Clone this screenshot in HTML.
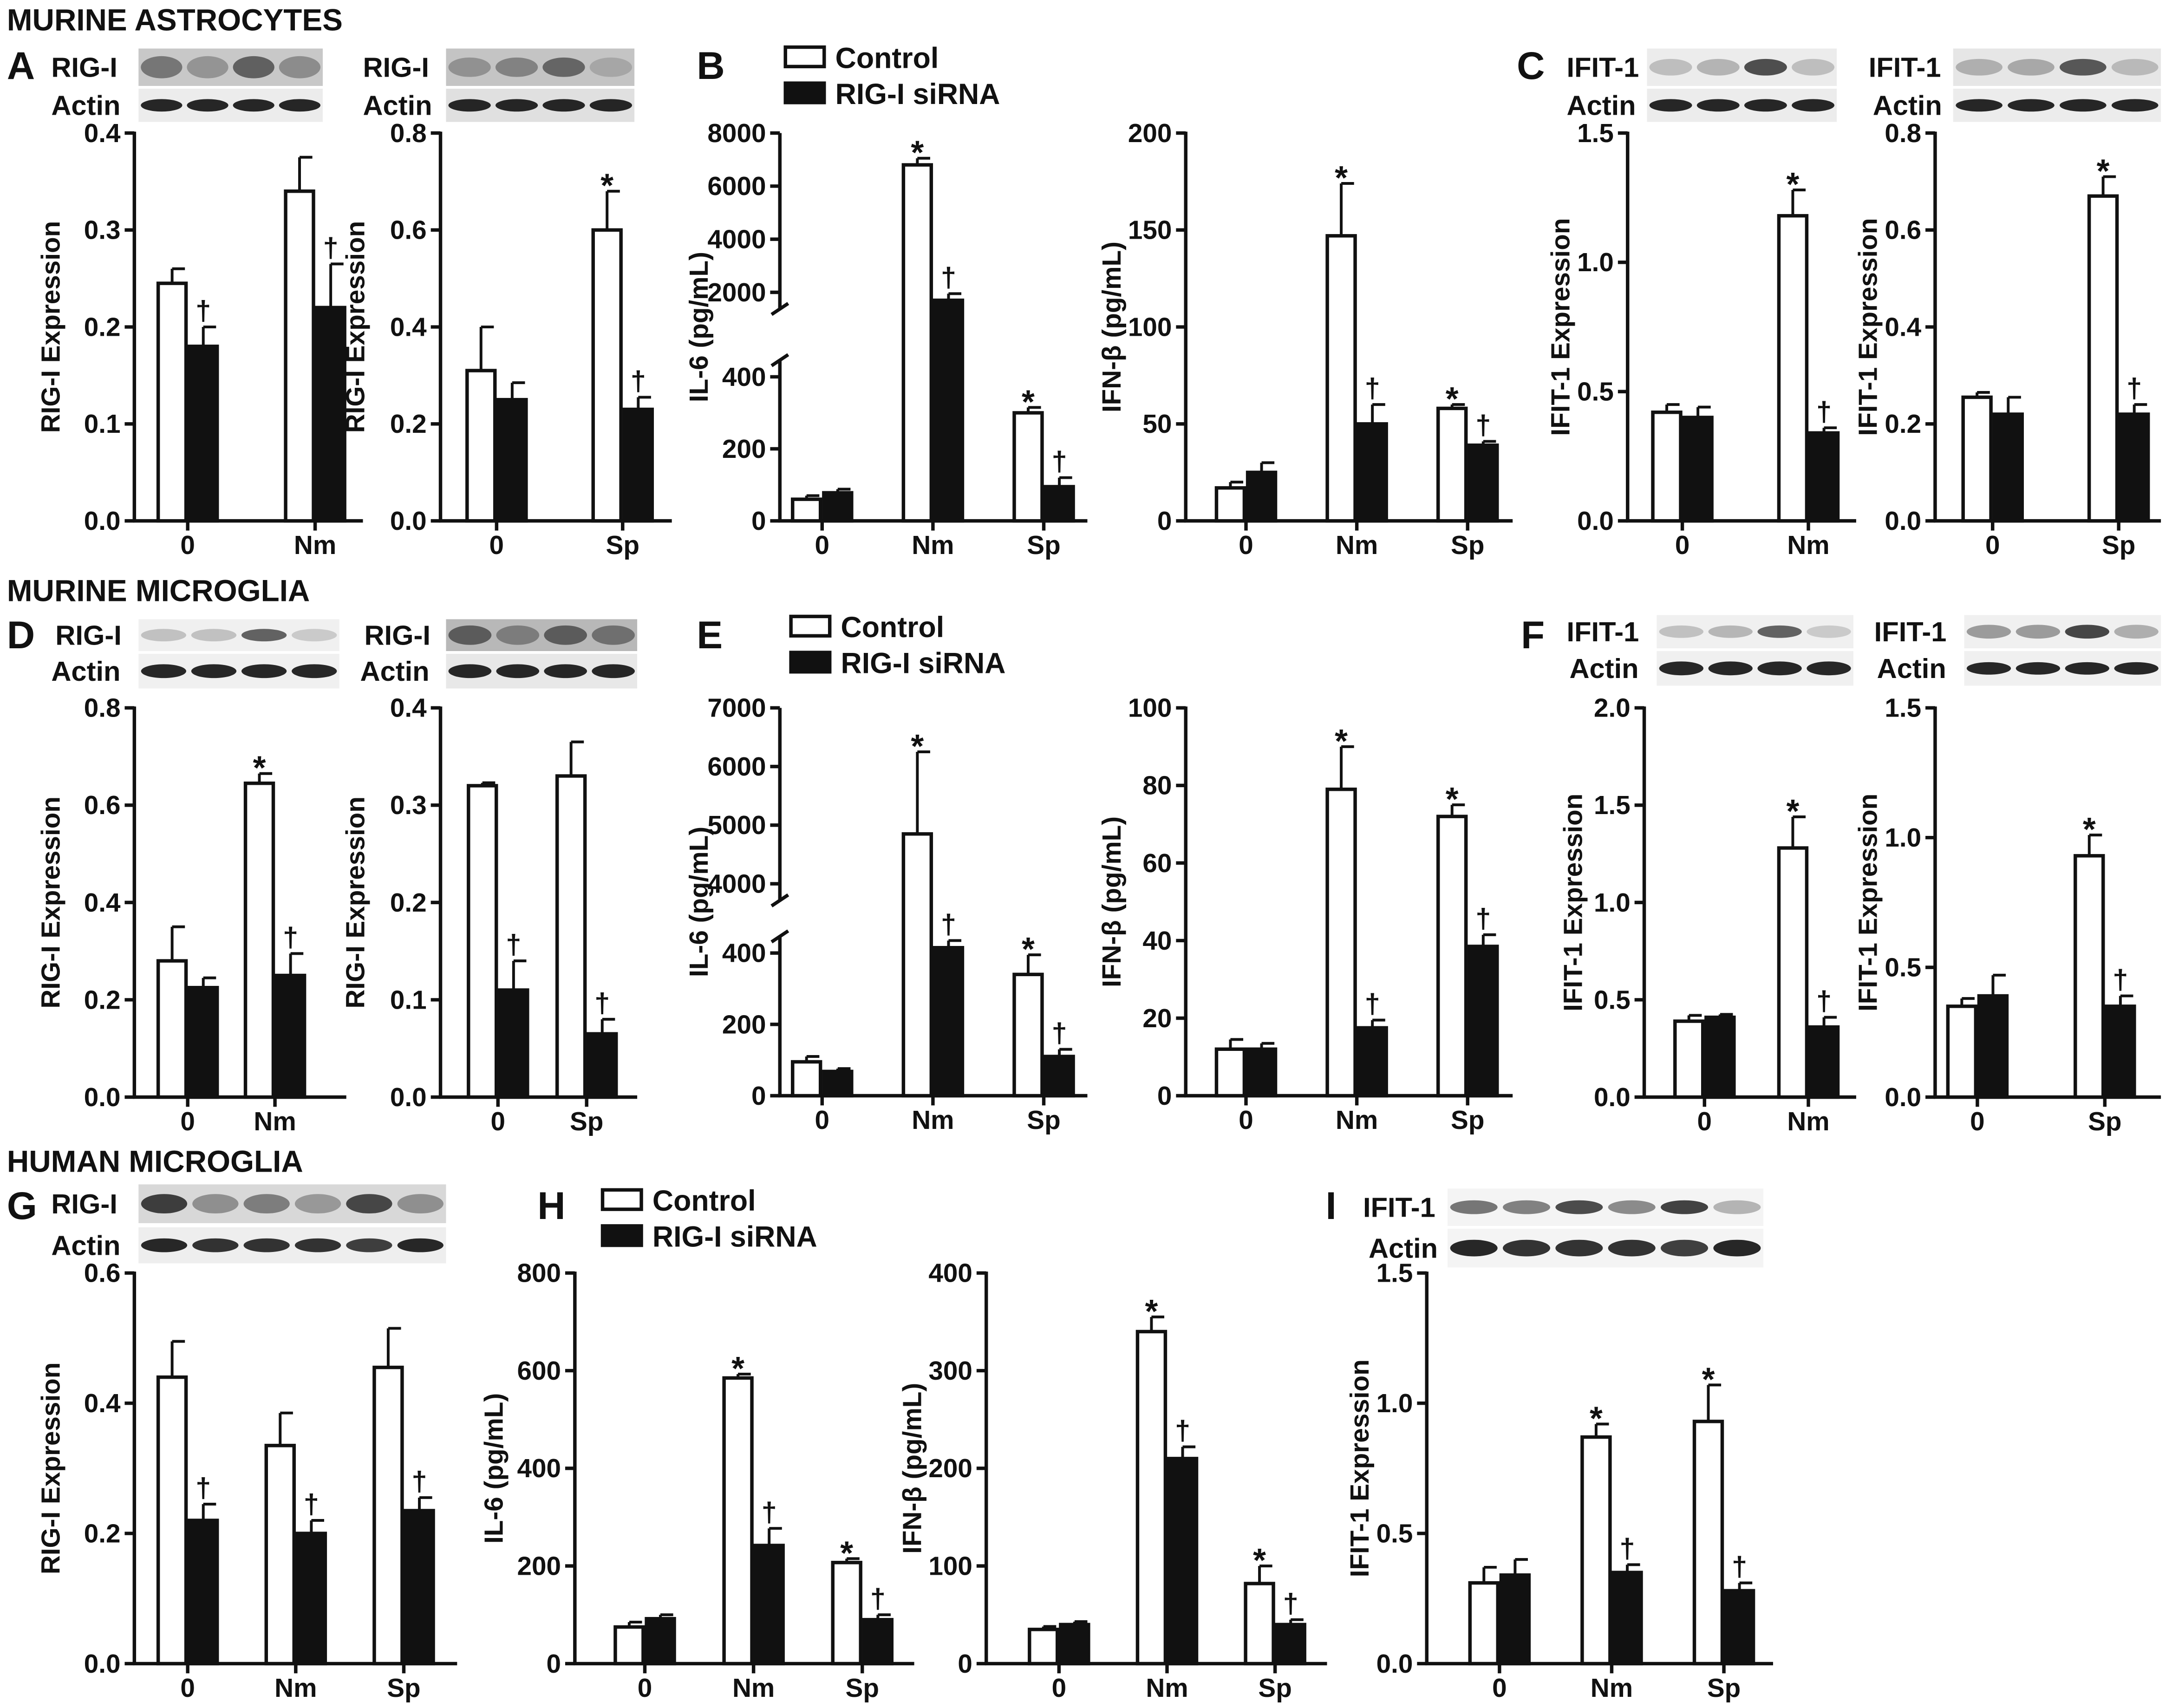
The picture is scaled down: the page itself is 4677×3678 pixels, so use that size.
<!DOCTYPE html>
<html><head><meta charset="utf-8"><style>
html,body{margin:0;padding:0;background:#fff}
svg{display:block}
text{font-family:"Liberation Sans",Arial,sans-serif;font-weight:bold;fill:#111}
</style></head><body>
<svg id="fig" width="4677" height="3678" viewBox="0 0 1568 1233" xmlns="http://www.w3.org/2000/svg"></svg>
<script>
// ---- data ----
const catsA1=['0','Nm'];const ctrlA1=[0.245,0.34];const ctrlErrA1=[0.015,0.035];const sirA1=[0.18,0.22];const sirErrA1=[0.02,0.045];const starA1=[0,0];const dagA1=[1,1];
const catsA2=['0','Sp'];const ctrlA2=[0.31,0.6];const ctrlErrA2=[0.09,0.08];const sirA2=[0.25,0.23];const sirErrA2=[0.035,0.025];const starA2=[0,1];const dagA2=[0,1];
const catsB1=['0','Nm','Sp'];const ctrlB1=[60,6800,300];const ctrlErrB1=[10,250,15];const sirB1=[78,1700,95];const sirErrB1=[10,250,25];const starB1=[0,1,1];const dagB1=[0,1,1];
const catsB2=['0','Nm','Sp'];const ctrlB2=[17,147,58];const ctrlErrB2=[3,27,2];const sirB2=[25,50,39];const sirErrB2=[5,10,2];const starB2=[0,1,1];const dagB2=[0,1,1];
const catsC1=['0','Nm'];const ctrlC1=[0.42,1.18];const ctrlErrC1=[0.03,0.1];const sirC1=[0.40,0.34];const sirErrC1=[0.04,0.02];const starC1=[0,1];const dagC1=[0,1];
const catsC2=['0','Sp'];const ctrlC2=[0.255,0.67];const ctrlErrC2=[0.01,0.04];const sirC2=[0.22,0.22];const sirErrC2=[0.035,0.02];const starC2=[0,1];const dagC2=[0,1];
const catsD1=['0','Nm'];const ctrlD1=[0.28,0.645];const ctrlErrD1=[0.07,0.02];const sirD1=[0.225,0.25];const sirErrD1=[0.02,0.045];const starD1=[0,1];const dagD1=[0,1];
const catsD2=['0','Sp'];const ctrlD2=[0.32,0.33];const ctrlErrD2=[0.003,0.035];const sirD2=[0.11,0.065];const sirErrD2=[0.03,0.015];const starD2=[0,0];const dagD2=[1,1];
const catsE1=['0','Nm','Sp'];const ctrlE1=[95,4850,340];const ctrlErrE1=[15,1400,55];const sirE1=[68,415,110];const sirErrE1=[8,20,20];const starE1=[0,1,1];const dagE1=[0,1,1];
const catsE2=['0','Nm','Sp'];const ctrlE2=[12,79,72];const ctrlErrE2=[2.5,11,3];const sirE2=[12,17.5,38.5];const sirErrE2=[1.5,2,3];const starE2=[0,1,1];const dagE2=[0,1,1];
const catsF1=['0','Nm'];const ctrlF1=[0.39,1.28];const ctrlErrF1=[0.03,0.16];const sirF1=[0.41,0.36];const sirErrF1=[0.015,0.05];const starF1=[0,1];const dagF1=[0,1];
const catsF2=['0','Sp'];const ctrlF2=[0.35,0.93];const ctrlErrF2=[0.03,0.08];const sirF2=[0.39,0.35];const sirErrF2=[0.08,0.04];const starF2=[0,1];const dagF2=[0,1];
const catsG=['0','Nm','Sp'];const ctrlG=[0.44,0.335,0.455];const ctrlErrG=[0.055,0.05,0.06];const sirG=[0.22,0.2,0.235];const sirErrG=[0.025,0.02,0.02];const starG=[0,0,0];const dagG=[1,1,1];
const catsH1=['0','Nm','Sp'];const ctrlH1=[75,585,207];const ctrlErrH1=[10,8,8];const sirH1=[92,242,90];const sirErrH1=[8,35,10];const starH1=[0,1,1];const dagH1=[0,1,1];
const catsH2=['0','Nm','Sp'];const ctrlH2=[35,340,82];const ctrlErrH2=[3,15,18];const sirH2=[40,210,40];const sirErrH2=[3,12,5];const starH2=[0,1,1];const dagH2=[0,1,1];
const catsI=['0','Nm','Sp'];const ctrlI=[0.31,0.87,0.93];const ctrlErrI=[0.06,0.05,0.14];const sirI=[0.34,0.35,0.28];const sirErrI=[0.06,0.03,0.03];const starI=[0,1,1];const dagI=[0,1,1];
const ticksRIG4=[0,0.1,0.2,0.3,0.4];const ticks08=[0,0.2,0.4,0.6,0.8];const ticks15=[0,0.5,1.0,1.5];const ticks20=[0,0.5,1.0,1.5,2.0];const ticks06=[0,0.2,0.4,0.6];
const ticksIFN200=[0,50,100,150,200];const ticksIFN100=[0,20,40,60,80,100];const ticksIL800=[0,200,400,600,800];const ticksIFN400=[0,100,200,300,400];
const ticksB1low=[0,200,400];const ticksB1up=[2000,4000,6000,8000];const ticksE1low=[0,200,400];const ticksE1up=[4000,5000,6000,7000];

const svg=document.getElementById('fig');
const NS='http://www.w3.org/2000/svg';
function el(tag,attrs,parent){const e=document.createElementNS(NS,tag);for(const k in attrs)e.setAttribute(k,attrs[k]);(parent||svg).appendChild(e);return e;}
function txt(s,x,y,size,anchor,parent){const t=el('text',{x:x,y:y,'font-size':size,'text-anchor':anchor||'start'},parent);t.textContent=s;return t;}
function fmt(v,d){return d===0?String(v):v.toFixed(d);}

function panel(name,p){
  const g=el('g',{});
  
  
  let yScale;
  if(p.broken){
    const b=p.broken;
    yScale=v=>v<=b.lowMax*1.15? p.yBot-(v/b.lowMax)*(p.yBot-b.yLowTop) : b.yUpBot-((v-b.upMin)/(p.max-b.upMin))*(b.yUpBot-p.yTop);
  } else yScale=v=>p.yBot-(v/p.max)*(p.yBot-p.yTop);
  const ax=el('g',{},g);
  
  
  if(p.broken){
    el('line',{x1:p.x0,y1:p.yBot,x2:p.x0,y2:p.broken.yLowTop-12,stroke:'#111','stroke-width':2.5},ax);
    el('line',{x1:p.x0,y1:p.broken.yUpBot+12,x2:p.x0,y2:p.yTop,stroke:'#111','stroke-width':2.5},ax);
    el('line',{x1:p.x0-6,y1:p.broken.yLowTop-8,x2:p.x0+6,y2:p.broken.yLowTop-16,stroke:'#111','stroke-width':2.5},ax);
    el('line',{x1:p.x0-6,y1:p.broken.yUpBot+16,x2:p.x0+6,y2:p.broken.yUpBot+8,stroke:'#111','stroke-width':2.5},ax);
  } else el('line',{x1:p.x0,y1:p.yBot+1,x2:p.x0,y2:p.yTop-1,stroke:'#111','stroke-width':2.5},ax);
  el('line',{x1:p.x0-1,y1:p.yBot,x2:p.xEnd,y2:p.yBot,stroke:'#111','stroke-width':2.5},g);
  p.ticks.forEach(v=>{const y=yScale(v);
    el('line',{x1:p.x0-7,y1:y,x2:p.x0,y2:y,stroke:'#111','stroke-width':2.5},ax);
    const t=txt(fmt(v,p.dec),p.x0-10,y+6.5,19,'end',ax);
    
    });
  const yt=txt(p.title,0,0,19,'middle',g);
  yt.setAttribute('transform',`translate(${p.x0-p.titleOff},${(p.yTop+p.yBot)/2}) rotate(-90)`);
  
  
  p.cats.forEach((c,i)=>{
    const gx=p.g0+i*p.gs, w=22.5;
    el('line',{x1:gx+w,y1:p.yBot,x2:gx+w,y2:p.yBot+7,stroke:'#111','stroke-width':2.5},g);
    const lab=txt(c,gx+w,p.yBot+24,19,'middle',g);
    
    
    [[p.ctrl[i],p.ctrlErr[i],'#fff',gx,p.star[i],'*'],[p.sir[i],p.sirErr[i],'#111',gx+w,p.dag[i],'†']].forEach((b,k)=>{
      const yv=yScale(b[0]), ye=yScale(b[0]+b[1]), cx=b[3]+w/2;
      el('line',{x1:cx,y1:yv,x2:cx,y2:ye,stroke:'#111','stroke-width':2},g);
      el('line',{x1:cx,y1:ye,x2:cx+w/2-2,y2:ye,stroke:'#111','stroke-width':2},g);
      const r=el('rect',{x:b[3]+1.2,y:yv,width:w-2.4,height:p.yBot-yv,fill:b[2],stroke:'#111','stroke-width':2.5},g);
      
      
      if(b[4]){const m=txt(b[5],cx,ye-(k?5:-4),b[5]==='*'?24:20,'middle',g);
        
        }
    });
  });
}

panel('chart-a1',{x0:97,xEnd:262,yTop:96,yBot:376,max:0.4,ticks:ticksRIG4,dec:1,title:'RIG-I Expression',titleOff:54,cats:catsA1,ctrl:ctrlA1,ctrlErr:ctrlErrA1,sir:sirA1,sirErr:sirErrA1,star:starA1,dag:dagA1,g0:113,gs:92});
panel('chart-a2',{x0:318,xEnd:485,yTop:96,yBot:376,max:0.8,ticks:ticks08,dec:1,title:'RIG-I Expression',titleOff:55,cats:catsA2,ctrl:ctrlA2,ctrlErr:ctrlErrA2,sir:sirA2,sirErr:sirErrA2,star:starA2,dag:dagA2,g0:336,gs:91});
panel('chart-b1',{x0:563,xEnd:785,yTop:96,yBot:376,max:8000,broken:{lowMax:400,yLowTop:272,upMin:2000,yUpBot:211},ticks:ticksB1low.concat(ticksB1up),dec:0,title:'IL-6 (pg/mL)',titleOff:52,cats:catsB1,ctrl:ctrlB1,ctrlErr:ctrlErrB1,sir:sirB1,sirErr:sirErrB1,star:starB1,dag:dagB1,g0:571,gs:80});
panel('chart-b2',{x0:856,xEnd:1092,yTop:96,yBot:376,max:200,ticks:ticksIFN200,dec:0,title:'IFN-β (pg/mL)',titleOff:47,cats:catsB2,ctrl:ctrlB2,ctrlErr:ctrlErrB2,sir:sirB2,sirErr:sirErrB2,star:starB2,dag:dagB2,g0:877,gs:80});
panel('chart-c1',{x0:1175,xEnd:1340,yTop:96,yBot:376,max:1.5,ticks:ticks15,dec:1,title:'IFIT-1 Expression',titleOff:42,cats:catsC1,ctrl:ctrlC1,ctrlErr:ctrlErrC1,sir:sirC1,sirErr:sirErrC1,star:starC1,dag:dagC1,g0:1192,gs:91});
panel('chart-c2',{x0:1397,xEnd:1560,yTop:96,yBot:376,max:0.8,ticks:ticks08,dec:1,title:'IFIT-1 Expression',titleOff:42,cats:catsC2,ctrl:ctrlC2,ctrlErr:ctrlErrC2,sir:sirC2,sirErr:sirErrC2,star:starC2,dag:dagC2,g0:1416,gs:91});
panel('chart-d1',{x0:97,xEnd:250,yTop:511,yBot:792,max:0.8,ticks:ticks08,dec:1,title:'RIG-I Expression',titleOff:54,cats:catsD1,ctrl:ctrlD1,ctrlErr:ctrlErrD1,sir:sirD1,sirErr:sirErrD1,star:starD1,dag:dagD1,g0:113,gs:63});
panel('chart-d2',{x0:318,xEnd:460,yTop:511,yBot:792,max:0.4,ticks:ticksRIG4,dec:1,title:'RIG-I Expression',titleOff:55,cats:catsD2,ctrl:ctrlD2,ctrlErr:ctrlErrD2,sir:sirD2,sirErr:sirErrD2,star:starD2,dag:dagD2,g0:337,gs:64});
panel('chart-e1',{x0:563,xEnd:785,yTop:511,yBot:791,max:7000,broken:{lowMax:400,yLowTop:688,upMin:4000,yUpBot:638},ticks:ticksE1low.concat(ticksE1up),dec:0,title:'IL-6 (pg/mL)',titleOff:52,cats:catsE1,ctrl:ctrlE1,ctrlErr:ctrlErrE1,sir:sirE1,sirErr:sirErrE1,star:starE1,dag:dagE1,g0:571,gs:80});
panel('chart-e2',{x0:856,xEnd:1092,yTop:511,yBot:791,max:100,ticks:ticksIFN100,dec:0,title:'IFN-β (pg/mL)',titleOff:47,cats:catsE2,ctrl:ctrlE2,ctrlErr:ctrlErrE2,sir:sirE2,sirErr:sirErrE2,star:starE2,dag:dagE2,g0:877,gs:80});
panel('chart-f1',{x0:1187,xEnd:1340,yTop:511,yBot:792,max:2.0,ticks:ticks20,dec:1,title:'IFIT-1 Expression',titleOff:45,cats:catsF1,ctrl:ctrlF1,ctrlErr:ctrlErrF1,sir:sirF1,sirErr:sirErrF1,star:starF1,dag:dagF1,g0:1208,gs:75});
panel('chart-f2',{x0:1397,xEnd:1560,yTop:511,yBot:792,max:1.5,ticks:ticks15,dec:1,title:'IFIT-1 Expression',titleOff:42,cats:catsF2,ctrl:ctrlF2,ctrlErr:ctrlErrF2,sir:sirF2,sirErr:sirErrF2,star:starF2,dag:dagF2,g0:1405,gs:92});
panel('chart-g',{x0:97,xEnd:330,yTop:919,yBot:1201,max:0.6,ticks:ticks06,dec:1,title:'RIG-I Expression',titleOff:54,cats:catsG,ctrl:ctrlG,ctrlErr:ctrlErrG,sir:sirG,sirErr:sirErrG,star:starG,dag:dagG,g0:113,gs:78});
panel('chart-h1',{x0:415,xEnd:660,yTop:919,yBot:1201,max:800,ticks:ticksIL800,dec:0,title:'IL-6 (pg/mL)',titleOff:52,cats:catsH1,ctrl:ctrlH1,ctrlErr:ctrlErrH1,sir:sirH1,sirErr:sirErrH1,star:starH1,dag:dagH1,g0:443,gs:78.5});
panel('chart-h2',{x0:712,xEnd:958,yTop:919,yBot:1201,max:400,ticks:ticksIFN400,dec:0,title:'IFN-β (pg/mL)',titleOff:47,cats:catsH2,ctrl:ctrlH2,ctrlErr:ctrlErrH2,sir:sirH2,sirErr:sirErrH2,star:starH2,dag:dagH2,g0:742,gs:78});
panel('chart-i',{x0:1030,xEnd:1280,yTop:919,yBot:1201,max:1.5,ticks:ticks15,dec:1,title:'IFIT-1 Expression',titleOff:42,cats:catsI,ctrl:ctrlI,ctrlErr:ctrlErrI,sir:sirI,sirErr:sirErrI,star:starI,dag:dagI,g0:1060,gs:81});

function legend(name,x,y){const g=el('g',{});
  el('rect',{x:x,y:y-15,width:28,height:14,fill:'#fff',stroke:'#111','stroke-width':2.5},g);txt('Control',x+36,y,21,'start',g);
  el('rect',{x:x,y:y+11,width:28,height:14,fill:'#111',stroke:'#111','stroke-width':2.5},g);txt('RIG-I siRNA',x+36,y+26,21,'start',g);}
legend('legend-b',567,49);legend('legend-e',571,460);legend('legend-h',435,874);

function blot(name,label,lx,x,y,w,h,lanes,dark,ell,bg){const g=el('g',{});
  txt(label,lx,y+h/2+7,20,'start',g);
  el('rect',{x:x,y:y,width:w,height:h,fill:bg||'#e4e4e4'},g);
  const lw=w/lanes.length;
  lanes.forEach((o,i)=>el('ellipse',{cx:x+lw*(i+0.5),cy:y+h/2,rx:lw*0.45,ry:ell,fill:dark,opacity:o},g));}
const laneAct4=[0.9,0.9,0.9,0.9],laneAct6=[0.9,0.85,0.85,0.85,0.8,0.9];
blot('blot-a1-rig-i','RIG-I',37,100,35,133,27,[0.55,0.35,0.7,0.4],'#333',8,'#c8c8c8');blot('blot-a1-actin','Actin',37,100,64,133,24,laneAct4,'#111',4.5,'#ececec');
blot('blot-a2-rig-i','RIG-I',262,322,35,136,27,[0.35,0.45,0.65,0.2],'#333',7,'#c4c4c4');blot('blot-a2-actin','Actin',262,322,64,136,24,laneAct4,'#111',4.5,'#e0e0e0');
blot('blot-c1-ifit1','IFIT-1',1131,1189,35,137,27,[0.25,0.3,0.85,0.25],'#333',6,'#ececec');blot('blot-c1-actin','Actin',1131,1189,64,137,24,laneAct4,'#111',4.5,'#ececec');
blot('blot-c2-ifit1','IFIT-1',1349,1410,35,150,27,[0.3,0.35,0.8,0.25],'#333',6,'#e6e6e6');blot('blot-c2-actin','Actin',1352,1410,64,150,24,laneAct4,'#111',4.5,'#ececec');
blot('blot-d1-rig-i','RIG-I',40,100,447,145,23,[0.25,0.25,0.75,0.2],'#333',4.5,'#f0f0f0');blot('blot-d1-actin','Actin',37,100,472,145,25,laneAct4,'#111',5,'#f0f0f0');
blot('blot-d2-rig-i','RIG-I',263,322,447,138,23,[0.7,0.45,0.7,0.55],'#333',7,'#b8b8b8');blot('blot-d2-actin','Actin',260,322,472,138,25,laneAct4,'#111',5,'#e8e8e8');
blot('blot-f1-ifit1','IFIT-1',1131,1196,444,142,24,[0.25,0.3,0.75,0.2],'#333',4.5,'#f0f0f0');blot('blot-f1-actin','Actin',1133,1196,470,142,25,laneAct4,'#111',5,'#f0f0f0');
blot('blot-f2-ifit1','IFIT-1',1353,1418,444,142,24,[0.45,0.45,0.9,0.35],'#333',5,'#f0f0f0');blot('blot-f2-actin','Actin',1355,1418,470,142,25,laneAct4,'#111',4.5,'#f0f0f0');
blot('blot-g-rig-i','RIG-I',37,100,855,222,28,[0.85,0.4,0.5,0.35,0.8,0.4],'#222',7,'#d8d8d8');blot('blot-g-actin','Actin',37,100,886,222,26,laneAct6,'#111',5,'#eeeeee');
blot('blot-i-ifit1','IFIT-1',984,1045,858,228,27,[0.6,0.55,0.8,0.5,0.85,0.3],'#222',5,'#f4f4f4');blot('blot-i-actin','Actin',988,1045,887,228,28,laneAct6,'#111',6,'#f4f4f4');

[['MURINE ASTROCYTES',5,22],['MURINE MICROGLIA',5,434],['HUMAN MICROGLIA',5,846]].forEach(a=>{const t=txt(a[0],a[1],a[2],22,'start');
  
  });
[['A',5,57],['B',503,57],['C',1095,57],['D',5,468],['E',503,468],['F',1098,468],['G',5,880],['H',388,880],['I',957,880]].forEach(a=>{const t=txt(a[0],a[1],a[2],28,'start');
  
  });
</script>
</body></html>
